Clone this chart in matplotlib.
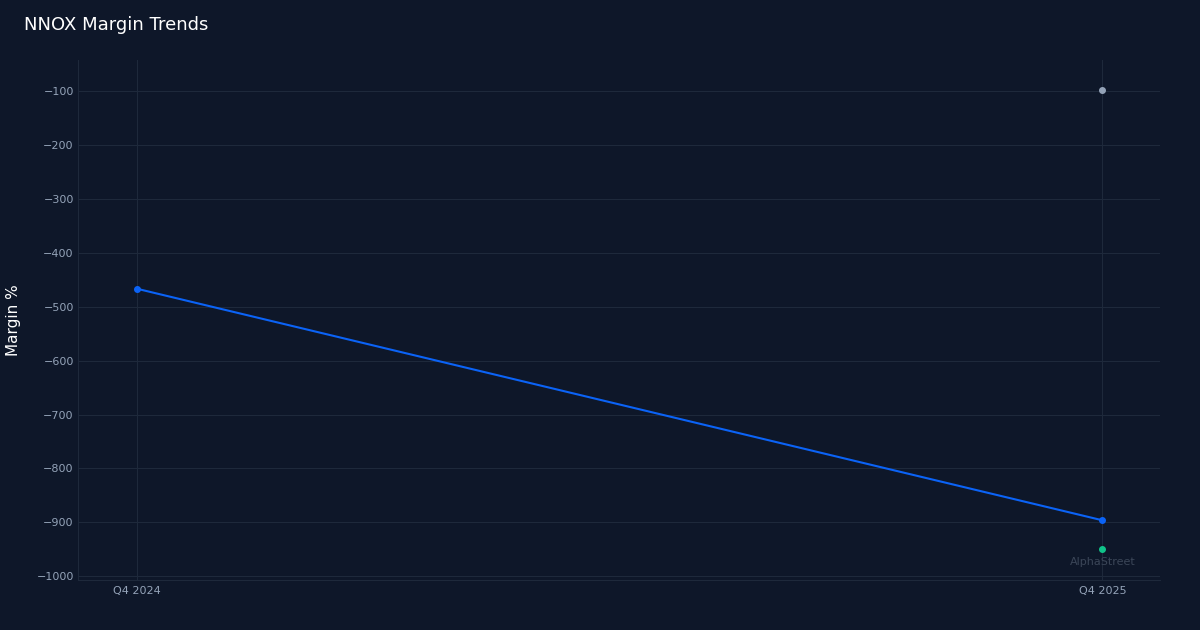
import matplotlib
matplotlib.use('Agg')
import matplotlib.pyplot as plt

# Data
quarters = ['Q4 2024', 'Q4 2025']
operating_margin = [-467, -896]
gross_margin_q = ['Q4 2025']
gross_margin = [-98]
net_margin_q = ['Q4 2025']
net_margin = [-950]

bg = '#0e1729'
grid = '#1e293b'
tick = '#94a3b8'

fig = plt.figure(figsize=(12, 6.3), dpi=100, facecolor=bg)
ax = fig.add_axes([0.065, 0.079, 0.902, 0.826])
ax.set_facecolor(bg)

x_pos = {q: i for i, q in enumerate(quarters)}
ax.plot([x_pos[q] for q in quarters], operating_margin, color='#0b63f6',
        linewidth=1.5, marker='o', markersize=4, zorder=3)
ax.plot([x_pos[q] for q in gross_margin_q], gross_margin, color='#94a3b8',
        linestyle='none', marker='o', markersize=4, zorder=3)
ax.plot([x_pos[q] for q in net_margin_q], net_margin, color='#10c48a',
        linestyle='none', marker='o', markersize=4, zorder=3)

ax.set_xlim(-0.061, 1.06)
ax.set_ylim(-1007, -43)
ax.set_xticks(range(len(quarters)))
ax.set_xticklabels(quarters)
ax.set_yticks(range(-1000, 0, 100))

ax.grid(True, color=grid, linewidth=0.8)
ax.set_axisbelow(True)
for side in ['top', 'right']:
    ax.spines[side].set_visible(False)
for side in ['left', 'bottom']:
    ax.spines[side].set_color(grid)
ax.tick_params(colors=tick, labelsize=8, length=0)
ax.tick_params(axis='y', pad=3)
ax.tick_params(axis='x', pad=4)

ax.set_ylabel('Margin %', color='white', fontsize=11, labelpad=11)
fig.text(0.02, 0.96, 'NNOX Margin Trends', color='white', fontsize=13,
         ha='left', va='center')
ax.text(1.0, -974, 'AlphaStreet', color='#3b4658', fontsize=8,
        ha='center', va='center')

fig.savefig('out.png', dpi=100, facecolor=bg)
